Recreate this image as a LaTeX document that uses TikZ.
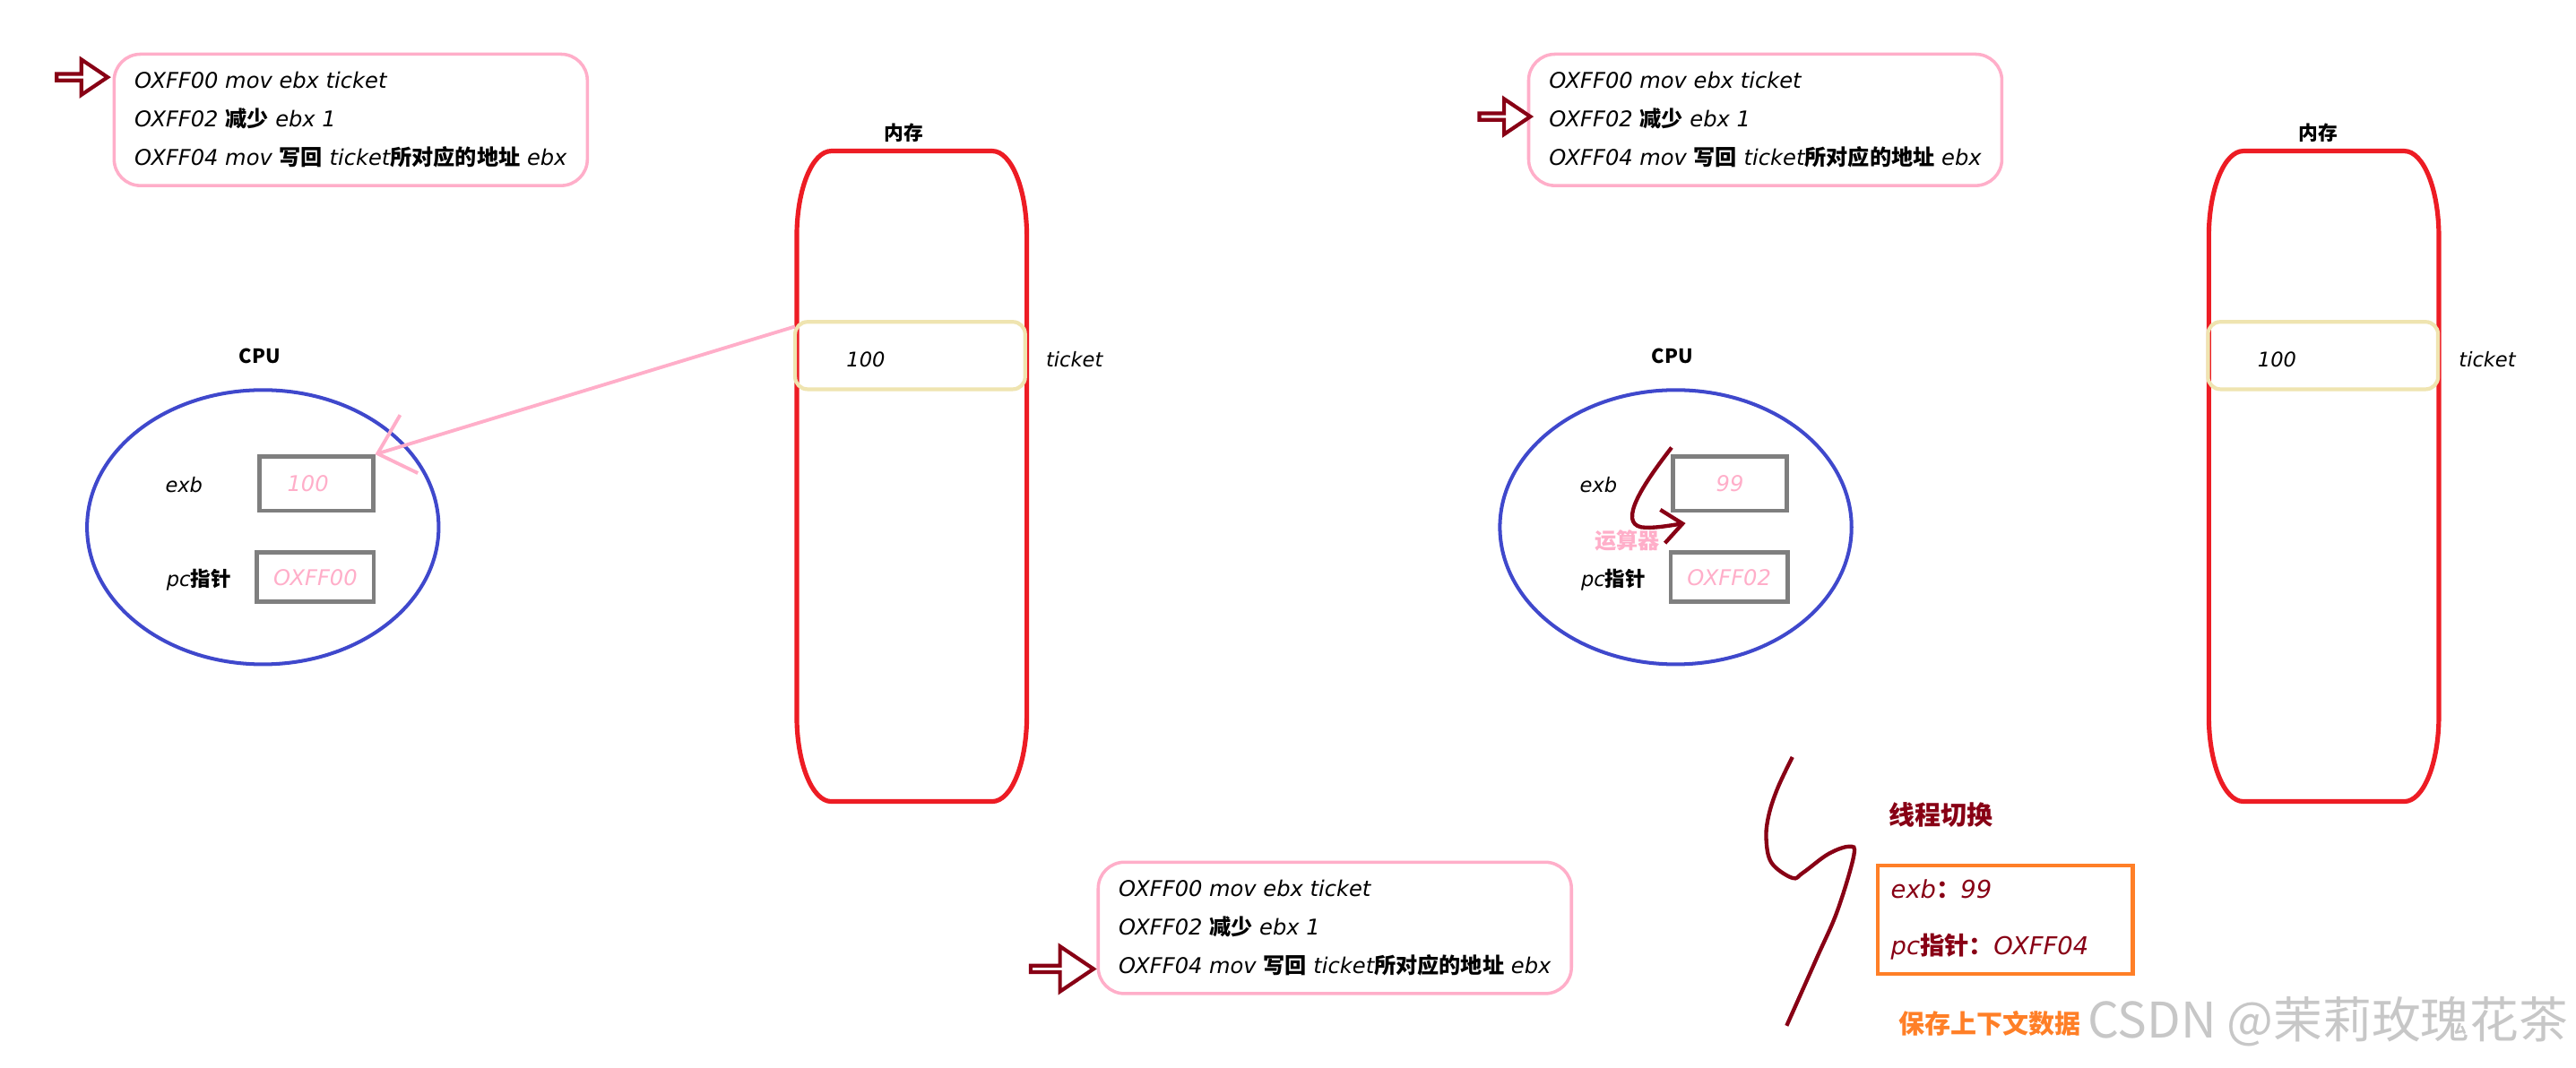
\documentclass[tikz,border=0pt]{standalone}
\usepackage{fontspec}
\setmainfont{DejaVu Sans}
\newfontfamily\cjk{Noto Sans CJK SC}
\usetikzlibrary{positioning,shapes.geometric,shapes.arrows,arrows.meta,calc}
\definecolor{rosecode}{RGB}{255,174,201}
\definecolor{bordeaux}{RGB}{136,0,21}
\definecolor{rougemem}{RGB}{237,28,36}
\definecolor{jaunecase}{RGB}{239,228,176}
\definecolor{bleucpu}{RGB}{63,72,204}
\definecolor{grisreg}{RGB}{127,127,127}
\definecolor{orangectx}{RGB}{255,127,39}
\newcommand{\zh}[1]{{\cjk\upshape\bfseries #1}}
% pill outline of a memory block (elliptic corners)
\newcommand{\drawmem}[1]{%
  \draw[memline] ($(#1.north west)+(21,0)$) -- ($(#1.north east)+(-21,0)$)
    .. controls ($(#1.north east)+(-9.4,0)$) and ($(#1.north east)+(0,23.3)$) .. ($(#1.north east)+(0,52)$)
    -- ($(#1.south east)+(0,-52)$)
    .. controls ($(#1.south east)+(0,-23.3)$) and ($(#1.south east)+(-9.4,0)$) .. ($(#1.south east)+(-21,0)$)
    -- ($(#1.south west)+(21,0)$)
    .. controls ($(#1.south west)+(9.4,0)$) and ($(#1.south west)+(0,-23.3)$) .. ($(#1.south west)+(0,-52)$)
    -- ($(#1.north west)+(0,52)$)
    .. controls ($(#1.north west)+(0,23.3)$) and ($(#1.north west)+(9.4,0)$) .. cycle;}

\begin{document}
\begin{tikzpicture}[x=0.04cm, y=-0.04cm,
    prog/.style={draw=rosecode, line width=2.2pt, rounded corners=0.64cm, minimum width=11.52cm, minimum height=3.2cm, align=left, font=\fontsize{15}{26.7}\selectfont\itshape},
    pointer/.style={single arrow, draw=bordeaux, line width=2.6pt, inner sep=0pt, outer sep=0pt, single arrow tip angle=68, minimum height=1.24cm, minimum width=0.86cm, single arrow head extend=0.2cm},
    cpubody/.style={ellipse, draw=bleucpu, line width=2.5pt, minimum width=8.56cm, minimum height=6.68cm},
    regbox/.style={draw=grisreg, line width=3pt, minimum width=2.76cm, minimum height=1.32cm, text=rosecode, font=\fontsize{15}{17}\selectfont\itshape},
    memory/.style={minimum width=5.6cm, minimum height=15.84cm, outer sep=0pt, inner sep=0pt},
    memline/.style={draw=rougemem, line width=3.2pt},
    slot/.style={draw=jaunecase, line width=2.6pt, rounded corners=0.3cm, minimum width=5.6cm, minimum height=1.64cm},
    lbl/.style={font=\fontsize{14}{16}\selectfont\itshape},
    heading/.style={font=\fontsize{13.5}{15}\selectfont\cjk\bfseries},
    copyline/.style={draw=rosecode, line width=2.4pt, -{Straight Barb[length=0.8cm, width=1.48cm]}},
    ctx/.style={draw=bordeaux, line width=2.7pt}
]
\path[fill=white, use as bounding box] (0,0) rectangle (1568,650);

% Thread A: before the switch
\node[prog] (prog1) at (213.5,73) {OXFF00 mov ebx ticket\\OXFF02 \zh{减少} ebx 1\\OXFF04 mov \zh{写回} ticket\zh{所对应的地址} ebx};
\node[pointer] (ptr1) at (48.5,47) {};

\node[heading] (cpulbl1) at (158,217) {CPU};
\node[cpubody] (cpu1) at (160,321) {};
\node[lbl] (exb1) at (112,295) {exb};
\node[regbox] (reg1a) at (192.5,294.5) {100\hspace*{0.4cm}};
\node[lbl] (pc1) at (121,353) {pc\zh{指针}};
\node[regbox, minimum width=2.84cm, minimum height=1.2cm] (reg1b) at (192,351.5) {OXFF00};

\node[heading] (memlbl1) at (550,81) {内存};
\node[memory] (mem1) at (555,290) {};
\drawmem{mem1}
\node[slot] (slot1) at (554,216.5) {};
\node[lbl] (val1) at (527,219) {100};
\node[lbl] (tick1) at (654,219) {ticket};

\draw[copyline] ($(slot1.north west)+(1,4)$) -- (reg1a.north east);

% Thread A: after ebx-1
\node[prog] (prog2) at (1074.5,73) {OXFF00 mov ebx ticket\\OXFF02 \zh{减少} ebx 1\\OXFF04 mov \zh{写回} ticket\zh{所对应的地址} ebx};
\node[pointer] (ptr2) at (914.5,71) {};

\node[heading] (cpulbl2) at (1018,217) {CPU};
\node[cpubody] (cpu2) at (1020,321) {};
\node[lbl] (exb2) at (973,295) {exb};
\node[regbox] (reg2a) at (1053,294.5) {99};
\node[lbl] (pc2) at (982,353) {pc\zh{指针}};
\node[regbox, minimum width=2.84cm, minimum height=1.2cm] (reg2b) at (1052.5,351.5) {OXFF02};

\coordinate (aluin) at (1017.5,272.5);
\coordinate (aluout) at (1026,318.6);
\draw[ctx, -{Straight Barb[length=0.49cm, width=0.82cm]}] (aluin) .. controls (1000,295) and (985,318) .. (999,321) .. controls (1006,322) and (1016,320) .. (aluout);
\node[font=\fontsize{15}{17}\selectfont\cjk\bfseries, text=rosecode] (alu) at (990.5,329) {运算器};

\node[heading] (memlbl2) at (1411,81) {内存};
\node[memory] (mem2) at (1414.5,290) {};
\drawmem{mem2}
\node[slot] (slot2) at (1414,216.5) {};
\node[lbl] (val2) at (1386,219) {100};
\node[lbl] (tick2) at (1514,219) {ticket};

% Thread switch
\draw[ctx] plot[smooth, tension=0.6] coordinates {(1091,461) (1082,480) (1076.6,496.5) (1075.1,511) (1078.4,525.5) (1091,534.6) (1097.5,531.4) (1112.9,520) (1125.6,515.5) (1128.4,521) (1118.4,554.6) (1105.7,583.7) (1087.5,624.6)};
\node[font=\fontsize{18}{20}\selectfont\cjk\bfseries, text=bordeaux] (switch) at (1181.5,496) {线程切换};
\node[draw=orangectx, line width=3pt, minimum width=6.2cm, minimum height=2.64cm, text width=5.56cm, inner xsep=0.32cm, align=left, text=bordeaux, font=\fontsize{17}{39.7}\selectfont\itshape] (saved) at (1220.5,560) {exb\zh{：}99\\pc\zh{指针：}OXFF04};
\node[font=\fontsize{18}{20}\selectfont\cjk\bfseries, text=orangectx] (savelbl) at (1211,623) {保存上下文数据};
\node[font=\fontsize{34}{36}\selectfont\cjk, text=black!22] (mark) at (1417,622) {CSDN @茉莉玫瑰花茶};

% Thread B resumes
\node[prog] (prog3) at (812.5,565) {OXFF00 mov ebx ticket\\OXFF02 \zh{减少} ebx 1\\OXFF04 mov \zh{写回} ticket\zh{所对应的地址} ebx};
\node[pointer, minimum height=1.53cm, minimum width=1.1cm, single arrow head extend=0.27cm] (ptr3) at (645,590) {};
\end{tikzpicture}
\end{document}
